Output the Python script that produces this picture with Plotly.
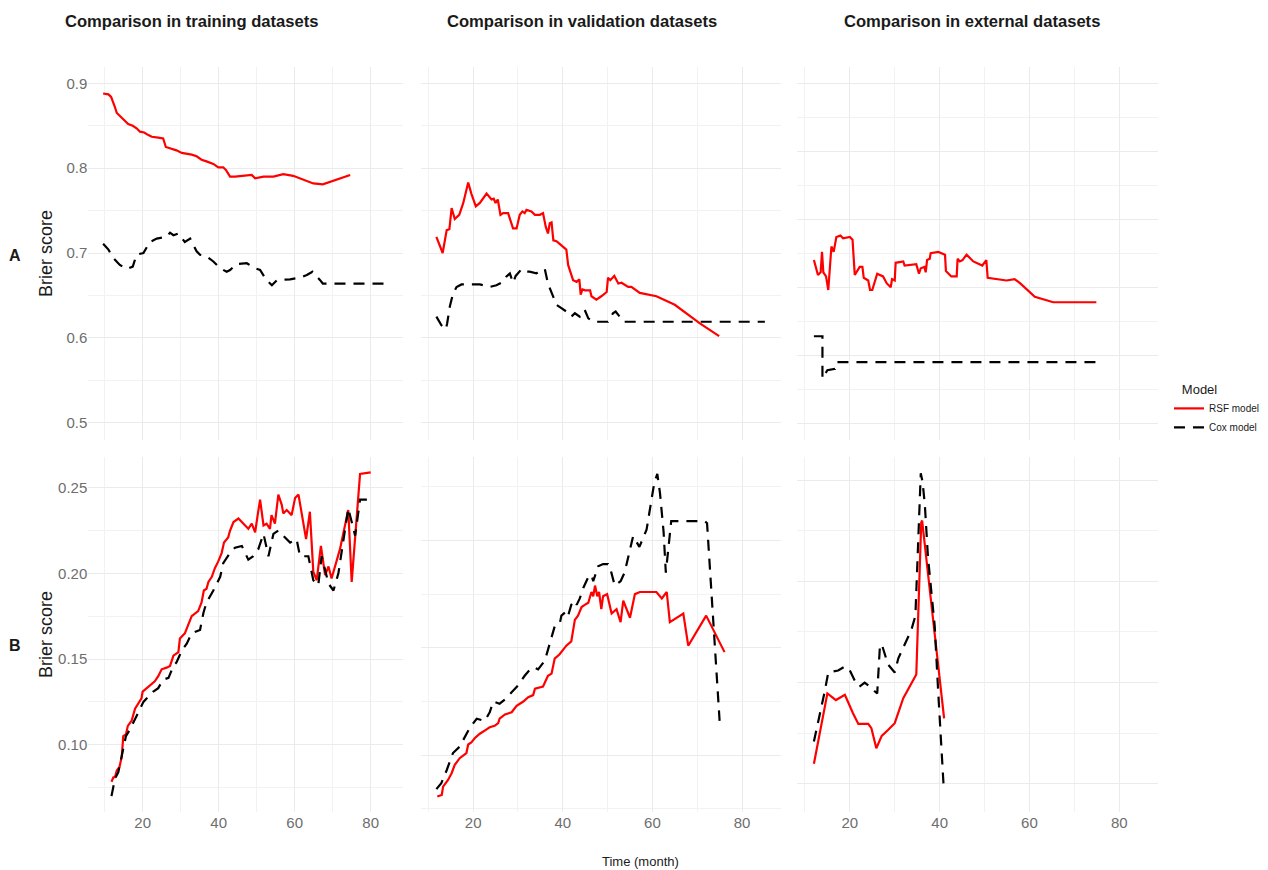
import plotly.graph_objects as go

W, H = 1268, 870
FONT = "Liberation Sans, Arial, Helvetica, sans-serif"

# ---------------- data ----------------
# Row A, training
A_train_rsf_t = [9.6, 11.0, 11.7, 12.3, 12.7, 13.2, 14.2, 15.1, 16.2, 17.4, 18.4, 19.3, 20.4, 21.5, 22.4,
                 24.1, 25.4, 26.1, 27.6, 28.9, 30.3, 31.6, 32.9, 34.2, 35.5, 36.8, 38.6, 39.9, 41.2, 41.9,
                 43.0, 44.3, 46.5, 48.7, 49.6, 51.8, 54.4, 57.0, 59.6, 62.3, 64.9, 67.4, 70.2, 74.6]
A_train_rsf = [0.888, 0.887, 0.884, 0.878, 0.872, 0.865, 0.861, 0.857, 0.852, 0.850, 0.847, 0.843, 0.842,
               0.839, 0.837, 0.836, 0.835, 0.825, 0.823, 0.821, 0.818, 0.817, 0.816, 0.814, 0.810, 0.808,
               0.805, 0.801, 0.801, 0.798, 0.790, 0.790, 0.791, 0.792, 0.788, 0.790, 0.790, 0.793, 0.791,
               0.786, 0.782, 0.781, 0.785, 0.792]
A_train_cox_t = [9.6, 11.0, 12.3, 14.0, 15.8, 17.4, 18.4, 20.2, 21.9, 23.7, 26.3, 27.2, 28.1, 29.4, 31.1,
                 32.5, 34.2, 35.1, 36.8, 38.6, 40.4, 42.1, 43.0, 44.7, 47.4, 49.6, 50.9, 52.6, 54.0, 55.3,
                 58.8, 61.4, 63.2, 64.7, 66.7, 67.4, 84.2]
A_train_cox = [0.711, 0.704, 0.694, 0.686, 0.681, 0.684, 0.698, 0.700, 0.713, 0.717, 0.719, 0.724, 0.721,
               0.723, 0.713, 0.717, 0.702, 0.698, 0.696, 0.690, 0.682, 0.678, 0.680, 0.687, 0.688, 0.682,
               0.680, 0.668, 0.662, 0.668, 0.669, 0.671, 0.674, 0.678, 0.668, 0.664, 0.664]

# Row A, validation
A_valid_rsf_t = [11.8, 13.2, 14.1, 14.7, 15.2, 15.9, 16.9, 17.8, 18.9, 19.6, 20.6, 21.5, 23.0, 24.1, 24.6,
                 25.0, 25.5, 26.1, 26.7, 27.8, 28.9, 29.7, 30.4, 31.0, 31.5, 31.9, 33.0, 33.8, 34.9, 35.6,
                 36.2, 36.7, 37.1, 37.5, 37.9, 38.6, 39.7, 40.8, 41.2, 42.3, 43.1, 43.7, 44.0, 44.4, 45.0,
                 46.1, 46.4, 47.5, 48.6, 49.8, 50.1, 50.6, 51.5, 52.4, 53.1, 54.6, 55.3, 57.2, 60.9, 65.0,
                 70.6, 74.9]
A_valid_rsf = [0.719, 0.700, 0.727, 0.728, 0.753, 0.740, 0.745, 0.759, 0.783, 0.770, 0.755, 0.759, 0.770,
               0.763, 0.764, 0.759, 0.763, 0.745, 0.747, 0.747, 0.729, 0.729, 0.745, 0.749, 0.747, 0.751,
               0.749, 0.745, 0.745, 0.747, 0.731, 0.723, 0.735, 0.736, 0.715, 0.714, 0.709, 0.704, 0.686,
               0.668, 0.666, 0.669, 0.651, 0.657, 0.656, 0.656, 0.649, 0.645, 0.649, 0.654, 0.671, 0.668,
               0.673, 0.664, 0.665, 0.660, 0.660, 0.653, 0.649, 0.639, 0.617, 0.602]
A_valid_cox_t = [11.8, 12.9, 13.9, 14.2, 14.8, 15.5, 16.3, 17.4, 21.5, 23.7, 25.2, 26.7, 27.4, 28.2, 28.9,
                 29.5, 30.8, 31.8, 32.6, 34.1, 35.3, 36.0, 36.7, 37.9, 38.6, 39.7, 40.8, 41.9, 42.7, 43.8,
                 44.9, 45.7, 46.8, 49.0, 50.1, 51.2, 51.8, 52.7, 53.5, 85.1]
A_valid_cox = [0.625, 0.615, 0.610, 0.617, 0.637, 0.652, 0.660, 0.663, 0.663, 0.660, 0.662, 0.666, 0.672,
               0.676, 0.665, 0.673, 0.681, 0.678, 0.678, 0.676, 0.680, 0.681, 0.664, 0.649, 0.639, 0.635,
               0.631, 0.625, 0.629, 0.625, 0.633, 0.623, 0.619, 0.619, 0.619, 0.629, 0.631, 0.625, 0.619,
               0.619]

# Row A, external
A_ext_rsf_t = [12.0, 12.9, 13.5, 13.8, 14.1, 14.7, 15.2, 15.9, 16.4, 17.0, 17.9, 18.5, 20.0, 20.6, 21.1,
               22.2, 22.8, 23.1, 24.1, 24.5, 25.0, 26.1, 27.4, 28.2, 29.1, 29.4, 30.0, 30.2, 31.9, 32.2,
               34.8, 35.4, 35.8, 36.6, 36.9, 37.2, 37.8, 38.0, 39.7, 41.2, 41.4, 42.6, 43.8, 44.0, 44.5,
               45.1, 46.0, 47.5, 49.5, 50.4, 50.7, 54.9, 56.7, 57.9, 61.2, 65.3, 74.9]
A_ext_rsf = [0.620, 0.609, 0.611, 0.626, 0.611, 0.608, 0.598, 0.630, 0.626, 0.637, 0.638, 0.636, 0.637,
             0.635, 0.609, 0.615, 0.615, 0.607, 0.605, 0.598, 0.598, 0.610, 0.608, 0.603, 0.600, 0.606,
             0.605, 0.618, 0.619, 0.616, 0.617, 0.610, 0.614, 0.615, 0.611, 0.620, 0.621, 0.625, 0.626,
             0.624, 0.612, 0.608, 0.608, 0.621, 0.619, 0.620, 0.624, 0.619, 0.616, 0.620, 0.607, 0.605,
             0.606, 0.603, 0.593, 0.589, 0.589]
A_ext_cox_t = [12.0, 13.9, 13.9, 15.0, 16.7, 17.0, 74.9]
A_ext_cox = [0.564, 0.564, 0.533, 0.539, 0.540, 0.545, 0.545]

# Row B, training
B_train_rsf_t = [11.8, 12.3, 12.7, 13.2, 13.9, 14.5, 14.9, 15.6, 16.1, 17.1, 18.0, 18.9, 19.7, 20.0, 21.1,
                 22.4, 23.2, 24.1, 25.0, 26.3, 27.2, 28.1, 29.4, 29.8, 31.1, 32.9, 34.6, 35.5, 36.1, 36.8,
                 37.3, 38.2, 39.0, 39.9, 40.8, 41.4, 42.5, 43.0, 43.9, 45.2, 46.1, 46.9, 47.8, 48.7, 49.6,
                 50.4, 50.9, 51.8, 52.6, 53.5, 53.9, 54.8, 55.7, 56.6, 57.0, 57.9, 59.2, 60.1, 61.0, 63.0,
                 64.0, 64.9, 65.8, 66.9, 68.0, 68.9, 69.7, 71.9, 74.1, 75.0, 77.2, 80.0]
B_train_rsf = [0.0784, 0.081, 0.081, 0.085, 0.087, 0.093, 0.105, 0.106, 0.111, 0.114, 0.121, 0.124, 0.127,
               0.131, 0.133, 0.135, 0.137, 0.140, 0.144, 0.145, 0.146, 0.152, 0.154, 0.162, 0.165, 0.175,
               0.178, 0.183, 0.190, 0.191, 0.195, 0.198, 0.203, 0.207, 0.212, 0.218, 0.221, 0.225, 0.230,
               0.232, 0.230, 0.228, 0.226, 0.229, 0.224, 0.236, 0.243, 0.228, 0.229, 0.226, 0.234, 0.229,
               0.246, 0.240, 0.235, 0.237, 0.234, 0.244, 0.246, 0.220, 0.236, 0.201, 0.196, 0.216, 0.199,
               0.204, 0.197, 0.214, 0.237, 0.195, 0.258, 0.259]
B_train_cox_t = [11.8, 12.7, 13.6, 14.5, 15.6, 16.7, 18.4, 20.2, 21.5, 22.8, 24.1, 25.4, 26.8, 28.1, 28.9,
                 30.3, 31.6, 32.9, 35.1, 36.0, 36.8, 38.6, 40.4, 41.2, 43.0, 44.3, 46.1, 47.8, 49.1, 50.4,
                 51.8, 53.1, 54.4, 55.7, 57.0, 58.8, 60.5, 61.4, 63.6, 64.9, 66.2, 67.1, 68.9, 70.2, 71.5,
                 74.1, 75.9, 77.2, 79.0]
B_train_cox = [0.070, 0.080, 0.084, 0.093, 0.105, 0.109, 0.117, 0.125, 0.128, 0.131, 0.133, 0.138, 0.139,
               0.146, 0.148, 0.155, 0.159, 0.165, 0.167, 0.177, 0.183, 0.190, 0.198, 0.206, 0.212, 0.215,
               0.216, 0.208, 0.210, 0.214, 0.223, 0.210, 0.223, 0.225, 0.222, 0.218, 0.220, 0.210, 0.210,
               0.196, 0.193, 0.210, 0.194, 0.190, 0.200, 0.238, 0.222, 0.243, 0.243]

# Row B, validation
B_valid_rsf_t = [12.0, 13.0, 13.3, 14.4, 15.2, 15.9, 17.0, 18.5, 18.9, 19.6, 20.4, 21.5, 23.0, 23.7, 24.8,
                 25.6, 25.9, 27.1, 28.6, 29.7, 31.2, 32.3, 33.4, 33.8, 35.6, 36.7, 37.5, 38.2, 39.3, 40.1,
                 40.8, 41.9, 42.7, 43.4, 44.2, 44.9, 45.7, 46.4, 46.8, 47.2, 47.7, 48.1, 48.6, 49.0, 49.9,
                 50.9, 52.0, 52.9, 53.5, 55.0, 56.1, 57.2, 60.9, 62.1, 63.2, 63.9, 66.9, 68.0, 72.0, 76.1]
B_valid_rsf = [0.0808, 0.0815, 0.0854, 0.0885, 0.0916, 0.0955, 0.0986, 0.101, 0.105, 0.106, 0.108, 0.110,
               0.112, 0.113, 0.1137, 0.115, 0.117, 0.119, 0.120, 0.123, 0.125, 0.127, 0.128, 0.131, 0.132,
               0.137, 0.138, 0.145, 0.147, 0.149, 0.151, 0.153, 0.163, 0.165, 0.169, 0.170, 0.171, 0.176,
               0.174, 0.179, 0.174, 0.176, 0.168, 0.174, 0.175, 0.166, 0.168, 0.162, 0.172, 0.164, 0.175,
               0.176, 0.176, 0.173, 0.176, 0.162, 0.166, 0.151, 0.165, 0.148]
B_valid_cox_t = [11.8, 12.9, 14.1, 15.5, 17.0, 18.2, 19.3, 20.8, 22.6, 23.7, 24.5, 25.9, 27.1, 28.9, 29.8,
                 31.5, 32.3, 33.4, 34.5, 36.0, 36.9, 38.2, 39.3, 39.7, 40.8, 41.2, 41.9, 42.7, 43.1, 43.8,
                 44.6, 45.7, 46.4, 46.8, 47.9, 49.0, 50.1, 50.6, 51.6, 52.9, 53.8, 55.0, 55.7, 57.1, 58.7,
                 60.4, 61.1, 61.7, 62.5, 63.0, 63.6, 64.2, 66.1, 71.7, 72.2, 73.2, 74.3, 75.0]
B_valid_cox = [0.0842, 0.087, 0.093, 0.101, 0.104, 0.109, 0.113, 0.117, 0.116, 0.120, 0.125, 0.124, 0.126,
               0.130, 0.132, 0.137, 0.139, 0.141, 0.140, 0.144, 0.151, 0.160, 0.161, 0.165, 0.167, 0.165,
               0.170, 0.172, 0.170, 0.173, 0.178, 0.183, 0.184, 0.181, 0.188, 0.189, 0.189, 0.187, 0.179,
               0.181, 0.185, 0.196, 0.202, 0.197, 0.205, 0.2266, 0.231, 0.222, 0.204, 0.185, 0.198, 0.209,
               0.209, 0.209, 0.208, 0.174, 0.141, 0.116]

# Row B, external
B_ext_rsf_t = [12.0, 15.0, 16.9, 18.9, 20.7, 21.9, 24.1, 24.8, 25.9, 27.1, 28.5, 30.0, 31.9, 34.8, 35.9,
               36.1, 38.9, 41.0]
B_ext_rsf = [0.060, 0.0947, 0.0914, 0.094, 0.0849, 0.0796, 0.0796, 0.0775, 0.0676, 0.0737, 0.0766, 0.080,
             0.0923, 0.104, 0.179, 0.180, 0.124, 0.0824]
B_ext_cox_t = [12.0, 13.4, 14.4, 15.2, 17.4, 18.9, 20.0, 21.1, 22.1, 23.3, 24.5, 25.6, 26.1, 26.7, 27.1,
               28.5, 30.0, 30.8, 32.2, 33.7, 34.6, 35.4, 35.8, 36.2, 36.7, 37.4, 38.9, 39.7, 40.9]
B_ext_cox = [0.0709, 0.0849, 0.0956, 0.105, 0.106, 0.108, 0.106, 0.101, 0.098, 0.100, 0.098, 0.0956, 0.0947,
             0.118, 0.119, 0.109, 0.105, 0.112, 0.119, 0.126, 0.133, 0.178, 0.2033, 0.199, 0.188, 0.162,
             0.128, 0.0947, 0.0484]

col_titles = ["Comparison in training datasets", "Comparison in validation datasets",
              "Comparison in external datasets"]
row_labels = ["A", "B"]
model_names = ["RSF model", "Cox model"]
legend_title = "Model"
y_title = "Brier score"
x_title = "Time (month)"

# ---------------- layout geometry (pixels) ----------------
col_px = [(88.3, 403.0), (420.7, 781.0), (797.3, 1158.3)]
row_px = [(66.7, 440.0), (456.7, 811.7)]
x_ranges = [[5.7, 88.5], [8.3, 88.7], [8.3, 88.7]]
y_ranges = [[[0.4796, 0.9196], [0.4796, 0.9196], [0.4877, 0.7622]],
            [[0.0609, 0.2681], [0.0737, 0.2390], [0.0363, 0.2115]]]
y_dticks = [[0.1, 0.1, 0.05], [0.05, 0.05, 0.05]]

panels = [
    [(A_train_rsf_t, A_train_rsf, A_train_cox_t, A_train_cox),
     (A_valid_rsf_t, A_valid_rsf, A_valid_cox_t, A_valid_cox),
     (A_ext_rsf_t, A_ext_rsf, A_ext_cox_t, A_ext_cox)],
    [(B_train_rsf_t, B_train_rsf, B_train_cox_t, B_train_cox),
     (B_valid_rsf_t, B_valid_rsf, B_valid_cox_t, B_valid_cox),
     (B_ext_rsf_t, B_ext_rsf, B_ext_cox_t, B_ext_cox)],
]

GRID = "#EBEBEB"
MINOR = "#F2F2F2"
TICKC = "#6E6E6E"

fig = go.Figure()
layout = dict(
    width=W, height=H, margin=dict(l=0, r=0, t=0, b=0),
    paper_bgcolor="white", plot_bgcolor="white",
    font=dict(family=FONT, color="#1a1a1a"),
    showlegend=True,
    legend=dict(x=1169 / W, y=1 - 377 / H, xanchor="left", yanchor="top",
                title=dict(text="&nbsp;&nbsp;&nbsp;" + legend_title, font=dict(size=13, color="#1a1a1a")),
                font=dict(size=10, color="#1a1a1a"), bgcolor="rgba(0,0,0,0)",
                tracegroupgap=0, itemwidth=30),
)

k = 0
for r in range(2):
    for c in range(3):
        k += 1
        xa = "x" if k == 1 else f"x{k}"
        ya = "y" if k == 1 else f"y{k}"
        xkey = "xaxis" if k == 1 else f"xaxis{k}"
        ykey = "yaxis" if k == 1 else f"yaxis{k}"
        rt, rv, ct, cv = panels[r][c]
        assert len(rt) == len(rv) and len(ct) == len(cv)
        first = (k == 1)
        fig.add_trace(go.Scatter(x=rt, y=rv, mode="lines", name=model_names[0], legendgroup="rsf",
                                 showlegend=first, line=dict(color="#FF0000", width=2.2),
                                 xaxis=xa, yaxis=ya))
        fig.add_trace(go.Scatter(x=ct, y=cv, mode="lines", name=model_names[1], legendgroup="cox",
                                 showlegend=first, line=dict(color="#000000", width=2.2, dash="11px,8px"),
                                 xaxis=xa, yaxis=ya))
        x0, x1 = col_px[c]
        y0, y1 = row_px[r]
        layout[xkey] = dict(
            domain=[x0 / W, x1 / W], range=x_ranges[c], anchor=ya,
            tick0=0, dtick=20, showgrid=True, gridcolor=GRID, gridwidth=1,
            minor=dict(dtick=10, tick0=0, showgrid=True, gridcolor=MINOR, gridwidth=0.8),
            showline=False, zeroline=False, ticks="",
            showticklabels=(r == 1), tickfont=dict(size=15, color=TICKC, family=FONT),
        )
        layout[ykey] = dict(
            domain=[1 - y1 / H, 1 - y0 / H], range=y_ranges[r][c], anchor=xa,
            tick0=0, dtick=y_dticks[r][c], showgrid=True, gridcolor=GRID, gridwidth=1,
            minor=dict(dtick=y_dticks[r][c] / 2, tick0=0, showgrid=True, gridcolor=MINOR, gridwidth=0.8),
            showline=False, zeroline=False, ticks="",
            showticklabels=(c == 0), tickfont=dict(size=15, color=TICKC, family=FONT),
            tickformat=".1f" if r == 0 else ".2f",
        )

annotations = []
title_x = [63.3, 445.0, 841.7]
for c in range(3):
    annotations.append(dict(text=f"<b>{col_titles[c]}</b>", x=title_x[c] / W, y=1 - 21.7 / H,
                            xref="paper", yref="paper", xanchor="left", yanchor="middle",
                            showarrow=False, font=dict(size=16.6, color="#1a1a1a", family=FONT)))
label_y = [255, 645]
for r in range(2):
    annotations.append(dict(text=f"<b>{row_labels[r]}</b>", x=14.7 / W, y=1 - label_y[r] / H,
                            xref="paper", yref="paper", xanchor="center", yanchor="middle",
                            showarrow=False, font=dict(size=16, color="#1a1a1a", family=FONT)))
    yc = (row_px[r][0] + row_px[r][1]) / 2
    annotations.append(dict(text=y_title, x=46.7 / W, y=1 - yc / H, textangle=-90,
                            xref="paper", yref="paper", xanchor="center", yanchor="middle",
                            showarrow=False, font=dict(size=18, color="#1a1a1a", family=FONT)))
annotations.append(dict(text=x_title, x=640 / W, y=1 - 861.5 / H, xref="paper", yref="paper",
                        xanchor="center", yanchor="middle", showarrow=False,
                        font=dict(size=13, color="#1a1a1a", family=FONT)))
layout["annotations"] = annotations

fig.update_layout(**layout)
fig.write_html("out.html", config={"displayModeBar": False},
               post_script="document.body.style.margin='0';")
